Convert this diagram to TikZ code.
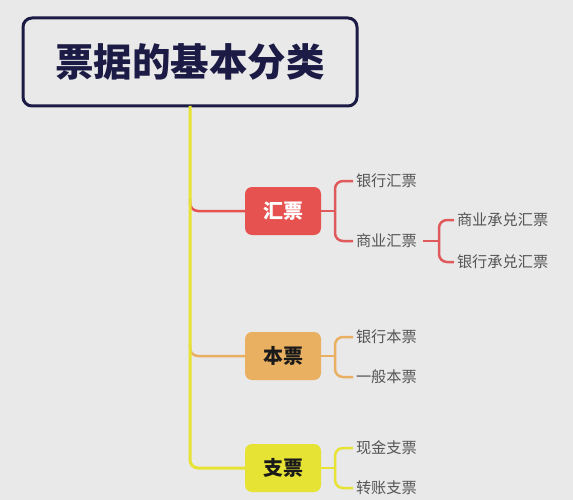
\documentclass[tikz,border=0pt]{standalone}
\usepackage{fontspec}
\newfontfamily\cjk{Noto Sans CJK SC}
\usetikzlibrary{calc}
\definecolor{bgc}{HTML}{E9E9E9}
\definecolor{navy}{HTML}{1C1B45}
\definecolor{redc}{HTML}{E5524F}
\definecolor{redl}{HTML}{E05A5C}
\definecolor{orac}{HTML}{EAB062}
\definecolor{yelc}{HTML}{E6E335}
\definecolor{leafgray}{HTML}{555555}
\definecolor{darktxt}{HTML}{1A1A1A}
\begin{document}
\begin{tikzpicture}[x=1pt,y=-1pt,
  every node/.style={inner sep=0pt, outer sep=0pt},
  leaf/.style={anchor=west, font=\cjk\fontsize{15.2}{15.2}\selectfont, text=leafgray},
  catbox/.style={rounded corners=7pt, minimum width=76pt, minimum height=48pt, font=\cjk\bfseries\fontsize{20}{20}\selectfont},
  trunk/.style={line width=3pt, rounded corners=8pt},
  link/.style={line width=2.5pt, rounded corners=8pt},
]
\fill[bgc] (0,0) rectangle (573,500);
\useasboundingbox (0,0) rectangle (573,500);

\node[draw=navy, line width=3pt, rounded corners=9pt, minimum width=334pt, minimum height=88pt, text=navy, font=\cjk\bfseries\fontsize{38.5}{38.5}\selectfont] (title) at (190,62) {票据的基本分类};

\node[catbox, fill=redc, text=white] (hui) at (283,211) {汇票};
\node[catbox, fill=orac, text=darktxt] (ben) at (283,356) {本票};
\node[catbox, fill=yelc, text=darktxt] (zhi) at (283,468) {支票};

% branches from trunk
\draw[link, draw=redc] ($(title.south|-hui.west)+(0,-12)$) |- (hui.west);
\draw[link, draw=orac] ($(title.south|-ben.west)+(0,-12)$) |- (ben.west);
\draw[trunk, draw=yelc] (title.south) |- (zhi.west);

% leaves
\node[leaf] (l1) at (356,181) {银行汇票};
\node[leaf] (l2) at (356,241) {商业汇票};
\node[leaf] (l3) at (457,220) {商业承兑汇票};
\node[leaf] (l4) at (457,262) {银行承兑汇票};
\node[leaf] (l5) at (356,337) {银行本票};
\node[leaf] (l6) at (356,377) {一般本票};
\node[leaf] (l7) at (356,448) {现金支票};
\node[leaf] (l8) at (356,488) {转账支票};

% brackets
\coordinate (b1) at (335,211);
\coordinate (b3) at (335,356);
\coordinate (b4) at (335,468);
\coordinate (b2) at (l2.east -| 439,0);

\draw[link, draw=redl] (hui.east) -- (b1);
\draw[link, draw=redl] ([xshift=-3pt]l1.west) -| (b1) |- ([xshift=-3pt]l2.west);
\draw[link, draw=redl] ([xshift=6pt]l2.east) -- (b2);
\draw[link, draw=redl] ([xshift=-3pt]l3.west) -| (b2) |- ([xshift=-3pt]l4.west);

\draw[link, draw=orac] (ben.east) -- (b3);
\draw[link, draw=orac] ([xshift=-3pt]l5.west) -| (b3) |- ([xshift=-3pt]l6.west);

\draw[link, draw=yelc] (zhi.east) -- (b4);
\draw[link, draw=yelc] ([xshift=-3pt]l7.west) -| (b4) |- ([xshift=-3pt]l8.west);
\end{tikzpicture}
\end{document}
